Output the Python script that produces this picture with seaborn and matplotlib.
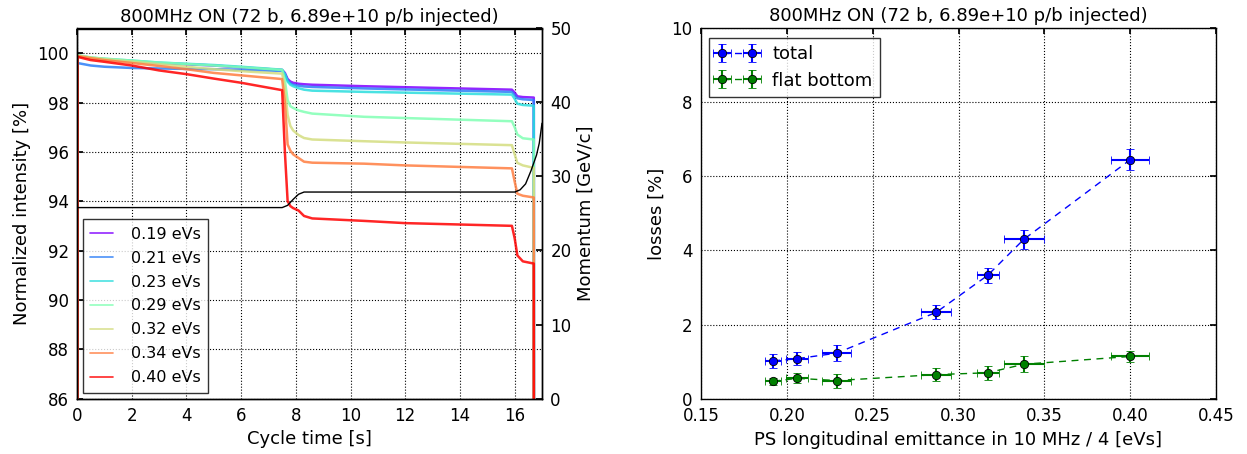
import numpy as np
import pandas as pd
import matplotlib
matplotlib.use("Agg")
import matplotlib.pyplot as plt
import seaborn as sns

# ---------------- data: intensity traces along the cycle ----------------
cycle_time = [0.0, 0.02, 0.5, 1.0, 2.0, 3.0, 4.0, 5.0, 6.0, 7.5, 7.6, 7.7, 7.8,
              7.9, 8.1, 8.3, 8.6, 10.5, 12.0, 15.9, 16.0, 16.1, 16.3, 16.7, 16.73]

emittance_labels = ["0.19 eVs", "0.21 eVs", "0.23 eVs", "0.29 eVs",
                    "0.32 eVs", "0.34 eVs", "0.40 eVs"]

int_019 = [0.0, 99.90, 99.80, 99.75, 99.68, 99.60, 99.55, 99.50, 99.42, 99.32, 99.20,
           98.95, 98.85, 98.80, 98.76, 98.74, 98.72, 98.66, 98.62, 98.52, 98.40, 98.25,
           98.22, 98.20, 0.0]
int_021 = [0.0, 99.60, 99.50, 99.45, 99.40, 99.38, 99.36, 99.35, 99.33, 99.28, 99.15,
           98.90, 98.78, 98.72, 98.68, 98.65, 98.63, 98.57, 98.53, 98.43, 98.30, 98.17,
           98.13, 98.10, 0.0]
int_023 = [0.0, 99.90, 99.82, 99.77, 99.70, 99.62, 99.57, 99.52, 99.45, 99.33, 99.15,
           98.85, 98.72, 98.66, 98.58, 98.52, 98.48, 98.43, 98.40, 98.32, 98.15, 97.95,
           97.90, 97.87, 0.0]
int_029 = [0.0, 99.92, 99.83, 99.78, 99.70, 99.62, 99.56, 99.50, 99.43, 99.32, 98.90,
           98.10, 97.85, 97.78, 97.68, 97.62, 97.55, 97.42, 97.37, 97.24, 97.00, 96.70,
           96.55, 96.50, 0.0]
int_032 = [0.0, 99.90, 99.82, 99.76, 99.66, 99.55, 99.45, 99.35, 99.27, 99.17, 98.60,
           97.50, 97.05, 96.87, 96.68, 96.56, 96.50, 96.43, 96.38, 96.27, 95.90, 95.55,
           95.45, 95.35, 0.0]
int_034 = [0.0, 99.88, 99.80, 99.72, 99.60, 99.48, 99.35, 99.20, 99.10, 98.95, 98.00,
           96.30, 96.05, 95.90, 95.75, 95.60, 95.56, 95.52, 95.45, 95.33, 94.80, 94.30,
           94.22, 94.15, 0.0]
int_040 = [0.0, 99.85, 99.72, 99.65, 99.50, 99.30, 99.15, 98.97, 98.80, 98.50, 96.00,
           94.00, 93.80, 93.72, 93.62, 93.40, 93.30, 93.20, 93.11, 93.00, 92.50, 91.80,
           91.56, 91.47, 0.0]

# ---------------- data: momentum program ----------------
momentum_time = [0.0, 7.5, 7.7, 7.9, 8.1, 8.3, 16.0, 16.2, 16.4, 16.6, 16.8, 16.9, 17.0]
momentum_gev = [25.8, 25.8, 26.1, 26.9, 27.6, 27.9, 27.9, 28.2, 29.0, 30.8, 32.9, 34.5, 37.2]

# ---------------- data: losses vs emittance ----------------
emit = [0.192, 0.206, 0.229, 0.287, 0.317, 0.338, 0.400]
emit_err = [0.0046, 0.0063, 0.0085, 0.0087, 0.0065, 0.0117, 0.011]
loss_total = [1.02, 1.08, 1.23, 2.33, 3.33, 4.30, 6.45]
loss_total_err = [0.18, 0.18, 0.22, 0.19, 0.21, 0.25, 0.28]
loss_fb = [0.47, 0.55, 0.49, 0.65, 0.70, 0.93, 1.14]
loss_fb_err = [0.09, 0.135, 0.19, 0.18, 0.19, 0.21, 0.15]

title = "800MHz ON (72 b, 6.89e+10 p/b injected)"

# ---------------- style ----------------
sns.set_theme(style="white")
plt.rcParams.update({
    "font.family": ["DejaVu Sans"],
    "font.size": 12,
    "text.color": "black",
    "axes.labelcolor": "black",
    "axes.edgecolor": "black",
    "axes.linewidth": 1.0,
    "axes.titlesize": 13,
    "axes.titlepad": 5,
    "axes.labelsize": 13,
    "xtick.labelsize": 12,
    "ytick.labelsize": 12,
    "xtick.direction": "in",
    "ytick.direction": "in",
    "xtick.major.size": 4,
    "ytick.major.size": 4,
    "xtick.major.pad": 6,
    "ytick.major.pad": 6,
    "xtick.color": "black",
    "ytick.color": "black",
    "grid.color": "black",
    "grid.linestyle": ":",
    "grid.linewidth": 0.8,
    "legend.fontsize": 12,
})

fig = plt.figure(figsize=(12.47, 4.54), dpi=100)
W, H = 1247, 454
ax1 = fig.add_axes([77 / W, 1 - 398.5 / H, 465 / W, 370 / H])
ax2 = fig.add_axes([701 / W, 1 - 398.7 / H, 515 / W, 370.5 / H])

# ---------------- left panel: intensity traces ----------------
palette = [plt.cm.rainbow(v) for v in np.linspace(0, 1, len(emittance_labels))]
traces = [int_019, int_021, int_023, int_029, int_032, int_034, int_040]
for lab, col, vals in zip(emittance_labels, palette, traces):
    df = pd.DataFrame({"t": cycle_time, "intensity": vals})
    sns.lineplot(data=df, x="t", y="intensity", ax=ax1, color=col, lw=1.8,
                 alpha=0.85, sort=False, estimator=None, label=lab)

ax1.set_xlim(0, 17)
ax1.set_ylim(86, 101)
ax1.set_xticks(range(0, 17, 2))
ax1.set_yticks(range(86, 101, 2))
ax1.grid(True)
ax1.tick_params(top=True, right=False)
ax1.set_xlabel("Cycle time [s]")
ax1.set_ylabel("Normalized intensity [%]")
ax1.set_title(title)
leg1 = ax1.legend(loc="lower left", frameon=True, fancybox=False, fontsize=11.5,
                  handlelength=1.45, handletextpad=1.1, borderpad=0.45,
                  labelspacing=0.56, borderaxespad=0.0,
                  bbox_to_anchor=(6 / 465, 6 / 370))
leg1.get_frame().set_edgecolor("black")
leg1.get_frame().set_linewidth(1.0)
for h in leg1.get_lines():
    h.set_linewidth(1.2)

ax1b = ax1.twinx()
sns.lineplot(x=momentum_time, y=momentum_gev, ax=ax1b, color="black", lw=1.0,
             sort=False, estimator=None)
ax1b.set_ylim(0, 50)
ax1b.set_yticks(range(0, 51, 10))
ax1b.set_ylabel("Momentum [GeV/c]")
ax1b.tick_params(direction="in", right=True)
ax1b.grid(False)

# ---------------- right panel: losses vs emittance ----------------
for y, yerr, col, lab in [(loss_total, loss_total_err, "blue", "total"),
                          (loss_fb, loss_fb_err, "green", "flat bottom")]:
    cont = ax2.errorbar(emit, y, xerr=emit_err, yerr=yerr, fmt="o--",
                        color=col, mec="black", mew=0.6, ms=6, lw=1.0,
                        elinewidth=1.5, capsize=3, capthick=1.5, label=lab)
    cont.lines[0].set_dashes((5, 4))

ax2.set_xlim(0.15, 0.45)
ax2.set_ylim(0, 10)
ax2.set_xticks(np.arange(0.15, 0.451, 0.05))
ax2.set_xticklabels([f"{v:.2f}" for v in np.arange(0.15, 0.451, 0.05)])
ax2.set_yticks(range(0, 11, 2))
ax2.grid(True)
ax2.tick_params(top=True, right=True)
ax2.set_xlabel("PS longitudinal emittance in 10 MHz / 4 [eVs]")
ax2.set_ylabel("losses [%]")
ax2.set_title(title)
leg2 = ax2.legend(loc="upper left", numpoints=2, frameon=True, fancybox=False,
                  fontsize=13, handlelength=2.3, handletextpad=0.8, borderpad=0.4,
                  labelspacing=0.45, borderaxespad=0.0,
                  bbox_to_anchor=(8 / 515, 1 - 10 / 370.5))
leg2.get_frame().set_edgecolor("black")
leg2.get_frame().set_linewidth(1.0)

fig.savefig("out.png", dpi=100)
